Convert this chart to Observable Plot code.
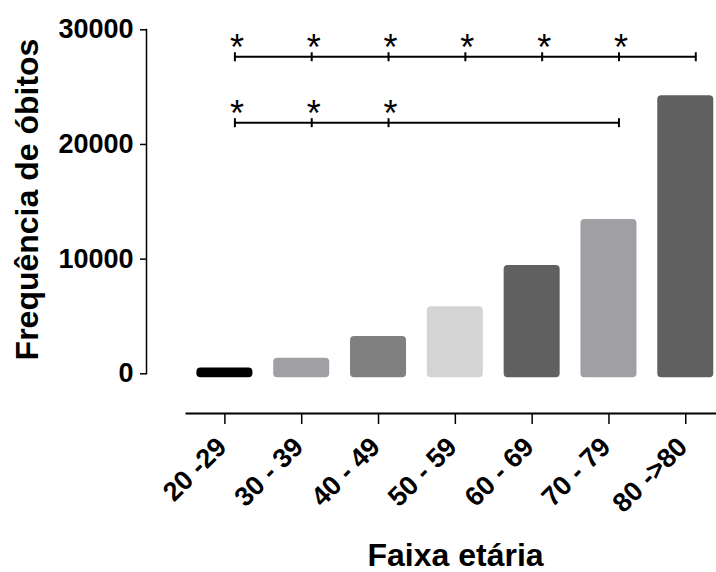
<!DOCTYPE html>
<html><head><meta charset="utf-8">
<script src="https://cdn.jsdelivr.net/npm/d3@7"></script>
<script src="https://cdn.jsdelivr.net/npm/@observablehq/plot@0.6"></script>
<style>body{margin:0;background:#fff} svg{display:block}</style>
</head><body><div id="chart"></div>
<script>
// Data
const ageGroups = ["20 -29", "30 - 39", "40 - 49", "50 - 59", "60 - 69", "70 - 79", "80 ->80"];
const deaths = [150, 1000, 2900, 5500, 9100, 13100, 23900];
const yTicks = [0, 10000, 20000, 30000];

// Significance brackets
const sigLevel = [27650, 21900];
const sigFrom = ["20 -29", "20 -29"];
const sigTo = ["80 ->80", "70 - 79"];
const sigTicks = [
  ["20 -29", "30 - 39", "40 - 49", "50 - 59", "60 - 69", "70 - 79", "80 ->80"],
  ["20 -29", "30 - 39", "40 - 49", "70 - 79"]
];
const sigStars = [
  ["20 -29", "30 - 39", "40 - 49", "50 - 59", "60 - 69", "70 - 79"],
  ["20 -29", "30 - 39", "40 - 49"]
];

// Styles
const barPalette = ["#000000", "#a0a0a4", "#808080", "#d4d4d4", "#606060", "#a0a0a4", "#606060"];
const font = "'Liberation Sans', Arial, Helvetica, sans-serif";

const pos = (g) => ageGroups.indexOf(g) + 0.5;
const bars = ageGroups.map((g, i) => ({group: g, i, deaths: deaths[i]}));
const sigLines = sigLevel.map((y, k) => ({y, x1: pos(sigFrom[k]), x2: pos(sigTo[k])}));
const sigTickRows = sigTicks.flatMap((arr, k) => arr.map(g => ({x: pos(g), y: sigLevel[k]})));
const sigStarRows = sigStars.flatMap((arr, k) => arr.map(g => ({x: pos(g), y: sigLevel[k]})));
const xTickPos = ageGroups.map(pos);

const vbar = {draw(ctx, size) { const r = Math.sqrt(size / Math.PI); ctx.moveTo(0, -r); ctx.lineTo(0, r); }};

const chart = Plot.plot({
  width: 716, height: 572,
  marginTop: 29, marginBottom: 159, marginLeft: 146, marginRight: 0,
  x: {domain: [0, 6.9], range: [186, 716]},
  y: {domain: [0, 30000], range: [373.3, 29.3]},
  color: {domain: ageGroups, range: barPalette},
  style: {fontFamily: font, background: "white", color: "black", overflow: "visible"},
  marks: [
    Plot.rectY(bars, {x: "i", y: "deaths", interval: 1, insetLeft: 14.4, insetRight: 14.4,
      fill: "group", stroke: "group", strokeWidth: 8, strokeLinejoin: "round"}),
    Plot.frame({anchor: "left", insetBottom: 39.7, strokeWidth: 1.5}),
    Plot.frame({anchor: "bottom", insetLeft: 40, strokeWidth: 2}),
    Plot.axisY({ticks: yTicks, tickSize: 6, tickPadding: 7, tickFormat: d3.format("d"),
      fontSize: 27, fontWeight: "bold", label: null, strokeWidth: 1.5}),
    Plot.axisX({ticks: xTickPos, tickSize: 11, text: null, label: null, strokeWidth: 1.5}),
    Plot.axisX({ticks: xTickPos, tickFormat: d => ageGroups[Math.floor(d)], tickSize: 0,
      tickPadding: 29, tickRotate: -45, fontSize: 27, fontWeight: "bold", label: null, dx: -3}),
    Plot.ruleY(sigLines, {y: "y", x1: "x1", x2: "x2", dx: 10, strokeWidth: 2}),
    Plot.dot(sigTickRows, {x: "x", y: "y", dx: 10, r: 4.5, symbol: vbar, fill: "none", stroke: "black", strokeWidth: 2}),
    Plot.text(sigStarRows, {x: "x", y: "y", text: () => "*", dx: 12, dy: -8, fontSize: 36}),
    Plot.text(["Frequência de óbitos"], {text: d => d, frameAnchor: "left", textAnchor: "middle", rotate: -90,
      dx: -119, dy: -22, fontSize: 32, fontWeight: "bold"}),
    Plot.text(["Faixa etária"], {text: d => d, frameAnchor: "bottom", textAnchor: "middle", dx: 24, dy: 152,
      fontSize: 32, fontWeight: "bold"})
  ]
});
document.getElementById("chart").appendChild(chart);
</script>
</body></html>
